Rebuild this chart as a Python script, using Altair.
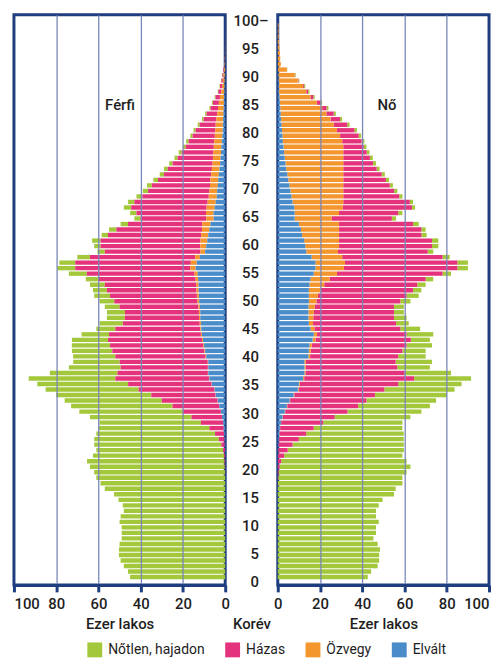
import altair as alt
import pandas as pd

FONT = "Roboto, Liberation Sans, sans-serif"
FS = 15
NAVY = "#1f3e80"
GRID = "#7986b8"
TEXT = "#1e1e1e"

ages = list(range(0, 101))
statuses = ["Nőtlen, hajadon", "Házas", "Özvegy", "Elvált"]
status_colors = ["#a4c83c", "#e4337c", "#f4962e", "#4a8bca"]
stack_order = ["Elvált", "Özvegy", "Házas", "Nőtlen, hajadon"]

age_ticks = [0, 5, 10, 15, 20, 25, 30, 35, 40, 45, 50, 55, 60, 65, 70, 75, 80, 85, 90, 95, 100]
age_tick_text = ["0", "5", "10", "15", "20", "25", "30", "35", "40", "45", "50",
                 "55", "60", "65", "70", "75", "80", "85", "90", "95", "100"]
x_ticks = [0, 20, 40, 60, 80, 100]

# ---- Férfi (thousand persons), ages 0..100 ----
male_single = [45, 46, 48, 49.5, 50.3, 50.3, 50, 49, 49, 49,
               50, 49.5, 48, 48.5, 50.5, 52.6, 57, 59, 61, 61.9,
               63.8, 65.1, 62.1, 60, 60.2, 59, 56.2, 52.5, 48, 48,
               49, 48, 46, 45, 44, 43, 41, 32, 24.5, 22,
               20, 19.1, 18.1, 17.1, 13, 9, 11, 8.5, 8.5, 7,
               7, 7.5, 6.6, 7, 6, 8.5, 8.5, 7.5, 6, 3.5,
               3, 4, 3, 3.5, 3.5, 3, 3, 3.5, 3, 2.8,
               2.5, 2.3, 2.2, 2, 1.8, 1.6, 1.5, 1.4, 1.3, 1.2,
               1.1, 1, 0.9, 0.8, 0.7, 0.6, 0.5, 0.4, 0.3, 0.25,
               0.2, 0.15, 0.1, 0.05, 0.03, 0.02, 0.02, 0.01, 0.01, 0, 0]
male_married = [0, 0, 0, 0, 0, 0, 0, 0, 0, 0,
                0, 0, 0, 0, 0, 0, 0, 0, 0, 0.1,
                0.2, 0.3, 0.5, 0.9, 1.6, 2.7, 4.3, 6.8, 10.5, 14.5,
                18, 22.1, 26.4, 30.4, 35.9, 39.5, 44.3, 42.8, 41.3, 41.7,
                42.7, 43.6, 44.1, 44.5, 43.5, 40.2, 36.4, 35.1, 35, 37.3,
                39.4, 41.1, 42.4, 43.3, 46, 51, 54.5, 54.7, 49.8, 45.3,
                47.2, 47.3, 44.1, 40.5, 35.2, 31, 32.9, 35.7, 34.7, 31.4,
                29, 27.5, 24.8, 22.4, 20.9, 18.9, 16.7, 15, 13.3, 12.1,
                10.5, 9.3, 7.6, 6, 5, 3.5, 2.8, 2.1, 1.4, 0.95,
                0.7, 0.5, 0.35, 0.18, 0.12, 0.09, 0.06, 0.05, 0.02, 0.015, 0.015]
male_widowed = [0, 0, 0, 0, 0, 0, 0, 0, 0, 0,
                0, 0, 0, 0, 0, 0, 0, 0, 0, 0,
                0, 0, 0, 0, 0, 0, 0, 0, 0, 0,
                0.05, 0.05, 0.1, 0.1, 0.1, 0.15, 0.2, 0.2, 0.2, 0.25,
                0.3, 0.35, 0.4, 0.45, 0.5, 0.5, 0.55, 0.6, 0.65, 0.7,
                0.8, 0.9, 1, 1.1, 1.2, 1.5, 2.5, 2.8, 2.2, 2.2,
                2.8, 3.2, 3.4, 3.5, 3.8, 3.5, 3.6, 3.8, 3.8, 3.8,
                3.7, 3.7, 3.7, 3.6, 3.6, 3.6, 3.6, 3.6, 3.6, 3.6,
                3.5, 3.5, 3.4, 3.2, 3, 2.7, 2.4, 2, 1.5, 1.2,
                0.9, 0.7, 0.45, 0.22, 0.13, 0.08, 0.06, 0.04, 0.02, 0.01, 0.01]
male_divorced = [0, 0, 0, 0, 0, 0, 0, 0, 0, 0,
                 0, 0, 0, 0, 0, 0, 0, 0, 0, 0,
                 0, 0, 0, 0.1, 0.2, 0.3, 0.5, 0.7, 1, 1.5,
                 2, 2.8, 3.5, 4.5, 5, 6.3, 7.5, 8, 8, 8,
                 9, 9.5, 10, 10.5, 11, 11.3, 11.5, 11.8, 11.8, 12,
                 12.3, 12.5, 12.6, 12.6, 12.8, 13, 14, 13.5, 12, 9.5,
                 9, 8.5, 8, 7.5, 7, 5.5, 5.5, 5, 4.5, 4,
                 3.8, 3.5, 3.3, 3, 2.7, 2.4, 2.2, 2, 1.8, 1.6,
                 1.4, 1.2, 1.1, 1, 0.8, 0.7, 0.6, 0.5, 0.35, 0.3,
                 0.2, 0.15, 0.1, 0.05, 0.02, 0.01, 0.01, 0, 0, 0, 0]

# ---- Nő (thousand persons), ages 0..100 ----
female_single = [42.6, 44.2, 47.3, 48, 48, 48.4, 47.3, 45.3, 46.5, 46.5,
                 47.8, 46.5, 46.5, 47.8, 49.6, 55, 55.8, 58.9, 58.8, 60.6,
                 61.9, 59.4, 56, 55, 52.7, 49.7, 46.2, 42, 37.5, 35.8,
                 35, 34, 33, 34, 33.2, 30, 27, 22, 15.5, 17.2,
                 13, 11, 12, 9, 12.6, 9.4, 6, 6, 4.7, 4.7,
                 4.8, 5.7, 4, 4, 3.6, 4, 5, 5, 3.4, 2.6,
                 3, 3, 2.5, 2, 2.7, 2, 2, 1.5, 1.5, 1.5,
                 1.5, 1.5, 1.5, 1.5, 1.4, 1.4, 1.4, 1.3, 1.3, 1.3,
                 1.2, 1.2, 1.1, 1, 1, 0.9, 0.8, 0.7, 0.6, 0.5,
                 0.4, 0.3, 0.15, 0.05, 0.02, 0.02, 0.02, 0.01, 0.01, 0.01, 0.01]
female_married = [0, 0, 0, 0, 0, 0, 0, 0, 0, 0,
                  0, 0, 0, 0, 0, 0, 0, 0.1, 0.2, 0.4,
                  0.85, 1.5, 2.9, 4.5, 6.7, 9.4, 12.7, 15.9, 19.9, 24.6,
                  29.5, 33.5, 36.1, 38.2, 40.6, 46.6, 52, 46.9, 43.3, 42.5,
                  41.7, 43.4, 44.9, 45.2, 42.5, 40.7, 39.3, 38.2, 37.9, 37.5,
                  39.7, 42, 43.8, 44, 45.5, 50, 53.7, 53.2, 47.5, 42.5,
                  44, 44, 39, 39, 35, 28.5, 28, 32.7, 31.5, 26.5,
                  24.1, 22, 20.2, 18.2, 15.8, 14.1, 12.6, 11.1, 9.7, 9.2,
                  8.8, 8.3, 6.4, 4.5, 3.5, 2.1, 1.7, 1.3, 0.9, 0.5,
                  0.3, 0.2, 0.05, 0, 0, 0, 0, 0, 0, 0, 0]
female_widowed = [0, 0, 0, 0, 0, 0, 0, 0, 0, 0,
                  0, 0, 0, 0, 0, 0, 0, 0, 0, 0,
                  0, 0, 0, 0, 0, 0.05, 0.05, 0.1, 0.1, 0.15,
                  0.2, 0.2, 0.25, 0.3, 0.35, 0.4, 0.5, 0.5, 0.6, 0.7,
                  0.8, 0.9, 1.1, 1.3, 1.5, 1.8, 2, 2.3, 2.6, 3,
                  3.6, 4.3, 5.5, 7, 9, 11, 13.5, 14, 14.5, 15,
                  16, 16.5, 17.5, 18, 19, 17.5, 21, 23, 24, 24.5,
                  25, 25.5, 26, 26.5, 27, 27.4, 27.7, 28, 28.3, 28.1,
                  27.3, 26, 24.7, 23.4, 21.6, 19.8, 17.5, 14.7, 12.9, 11.5,
                  9.1, 7.7, 4.15, 1.4, 1.15, 0.95, 0.76, 0.57, 0.47, 0.38, 0.38]
female_divorced = [0, 0, 0, 0, 0, 0, 0, 0, 0, 0,
                   0, 0, 0, 0, 0, 0, 0, 0, 0, 0,
                   0.05, 0.1, 0.1, 0.2, 0.3, 0.5, 0.7, 1, 1.5, 2.2,
                   3.3, 4.3, 5.6, 7.5, 9.5, 10, 12, 12.6, 12.6, 12.6,
                   14.5, 14.7, 15, 16.5, 17, 15.5, 14.7, 14.5, 14.5, 14.5,
                   14.7, 14.7, 14.7, 15, 15.5, 17, 17.8, 17.8, 16, 13.5,
                   13, 12.5, 11.5, 11, 10, 8, 8, 7.8, 7, 6.5,
                   6, 5.5, 5, 4.5, 4, 3.6, 3.3, 3, 2.7, 2.4,
                   2.2, 2, 1.8, 1.6, 1.4, 1.2, 1, 0.8, 0.6, 0.5,
                   0.4, 0.3, 0.15, 0.05, 0.03, 0.02, 0.02, 0.01, 0.01, 0.01, 0.01]


def long_table(series):
    rows = []
    for status, values in series.items():
        assert len(values) == len(ages), status
        for a, v in zip(ages, values):
            rows.append({"age": a, "status": status, "value": v,
                         "rank": stack_order.index(status)})
    return pd.DataFrame(rows)


df_m = long_table({"Nőtlen, hajadon": male_single, "Házas": male_married,
                   "Özvegy": male_widowed, "Elvált": male_divorced})
df_f = long_table({"Nőtlen, hajadon": female_single, "Házas": female_married,
                   "Özvegy": female_widowed, "Elvált": female_divorced})

PLOT_W, PLOT_H, MID_W = 213, 575, 53
y_scale = alt.Scale(domain=[-0.53, 101.06], nice=False, zero=False)

color = alt.Color(
    "status:N",
    scale=alt.Scale(domain=statuses, range=status_colors),
    legend=alt.Legend(title=None, orient="none", legendX=74, legendY=633,
                      direction="horizontal", symbolType="square", symbolSize=225,
                      symbolStrokeWidth=0, labelFont=FONT, labelFontSize=14,
                      labelColor=TEXT, columnPadding=20, labelOffset=6, padding=0),
)


def x_axis(align100):
    return alt.Axis(
        values=x_ticks, grid=True,
        gridColor={"condition": {"test": "datum.value == 0 || datum.value == 100",
                                 "value": "transparent"}, "value": GRID},
        gridWidth=1.3, domainColor=NAVY, domainWidth=3, tickColor=NAVY,
        tickWidth=3, tickSize=7, labelFont=FONT, labelFontSize=FS,
        labelFontWeight=500, labelColor=TEXT, labelPadding=5,
        labelAlign={"condition": {"test": "datum.value == 100", "value": align100},
                    "value": "center"},
        title="Ezer lakos", titleFont=FONT, titleFontSize=FS,
        titleFontWeight=500, titleColor=TEXT, titleY=32, zindex=1,
    )


def panel(df, reverse, align100, label, label_x):
    bars = alt.Chart(df).mark_bar(orient="horizontal", size=4.4).encode(
        y=alt.Y("age:Q", scale=y_scale, axis=None),
        x=alt.X("value:Q", stack="zero",
                scale=alt.Scale(domain=[0, 100], reverse=reverse, nice=False),
                axis=x_axis(align100)),
        color=color,
        order=alt.Order("rank:Q", sort="ascending"),
    )
    txt = alt.Chart(pd.DataFrame({"t": [label]})).mark_text(
        font=FONT, fontSize=15, fontWeight=500, color=TEXT
    ).encode(text="t:N", x=alt.value(label_x), y=alt.value(91))
    return alt.layer(bars, txt).properties(width=PLOT_W, height=PLOT_H)


left = panel(df_m, True, "left", "Férfi", 107)
right = panel(df_f, False, "right", "Nő", 110)

mid_x = alt.XDatum(0, type="quantitative", scale=alt.Scale(domain=[0, 1]),
                   axis=alt.Axis(title="Korév", labels=False, ticks=False,
                                 domain=False, grid=False, titleFont=FONT,
                                 titleFontSize=FS, titleFontWeight=500,
                                 titleColor=TEXT, titleY=32))
mid_labels = alt.Chart(pd.DataFrame({"age": age_ticks, "text": age_tick_text})).mark_text(
    align="right", baseline="middle", dx=34, font=FONT, fontSize=FS,
    fontWeight=500, color=TEXT
).encode(y=alt.Y("age:Q", scale=y_scale, axis=None), x=mid_x, text="text:N")
mid_dash = alt.Chart(pd.DataFrame({"age": [100], "text": ["–"]})).mark_text(
    align="left", baseline="middle", dx=34, font=FONT, fontSize=FS,
    fontWeight=500, color=TEXT
).encode(y=alt.Y("age:Q", scale=y_scale, axis=None), x=alt.XDatum(0), text="text:N")
mid = alt.layer(mid_labels, mid_dash).properties(
    width=MID_W, height=PLOT_H, view=alt.ViewBackground(stroke="transparent")
)

chart = alt.hconcat(left, mid, right, spacing=0, bounds="flush").properties(
    padding={"left": 3, "top": 1, "right": 0, "bottom": 0}
).configure(font=FONT, background="white").configure_view(stroke=NAVY, strokeWidth=3)

chart.save("out.html", embed_options={"renderer": "svg", "actions": False})
